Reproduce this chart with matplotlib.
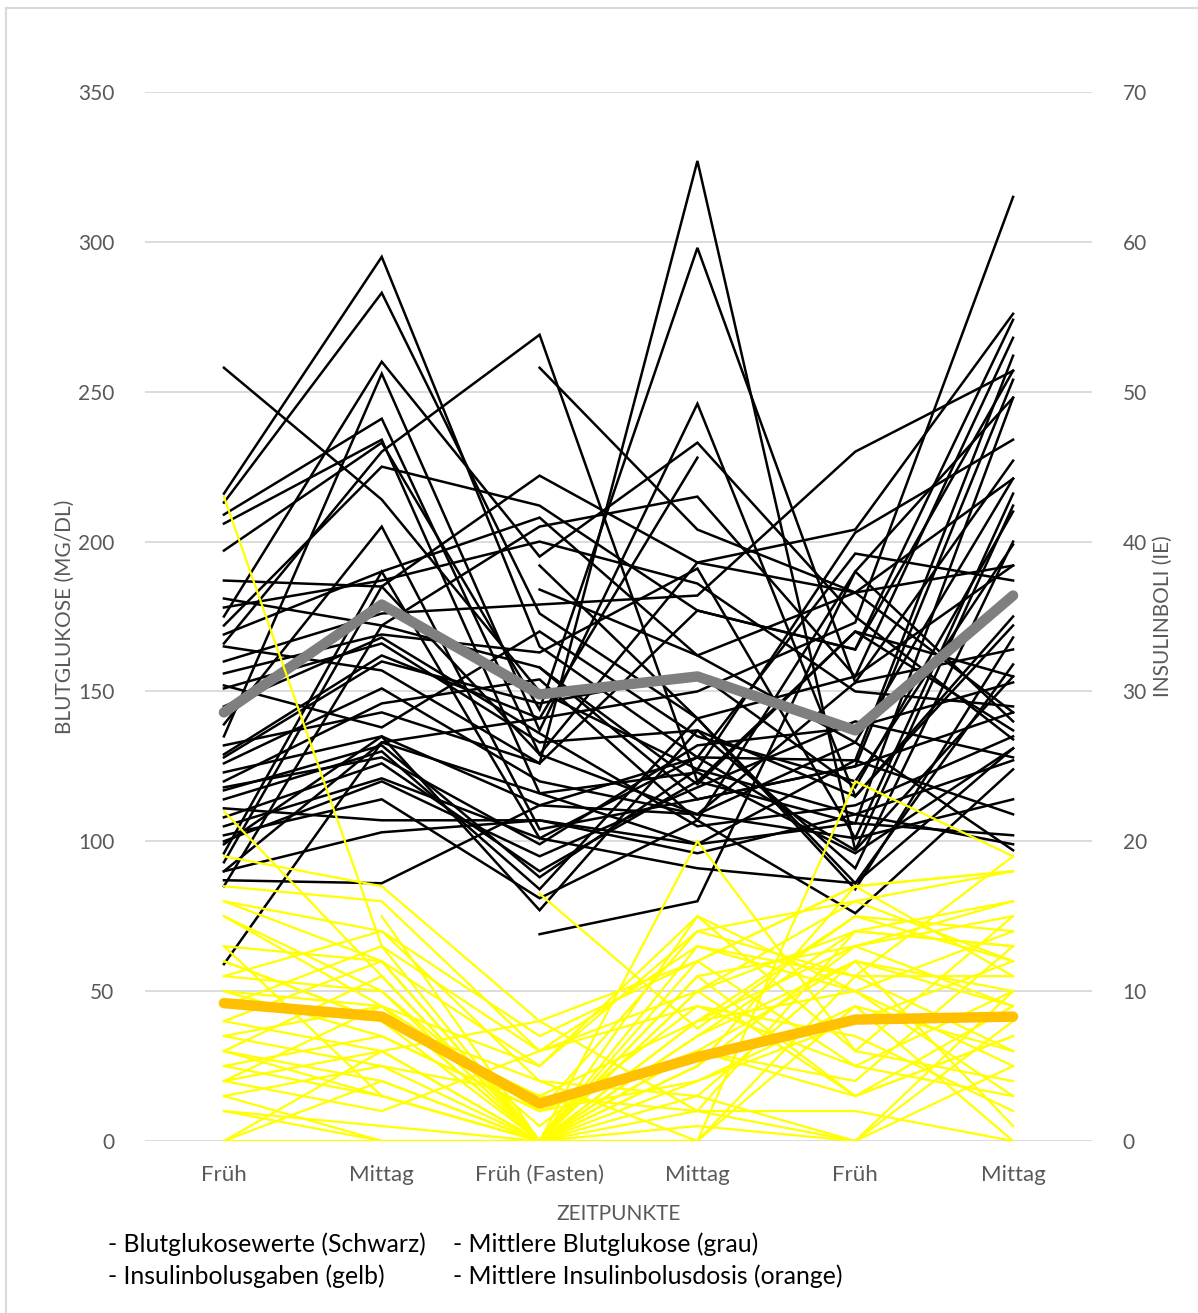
import numpy as np
import matplotlib
matplotlib.use("Agg")
import matplotlib.pyplot as plt
from matplotlib.lines import Line2D

plt.rcParams['font.family'] = ['Lato', 'DejaVu Sans']

nan = np.nan

# Time points (x categories)
categories = ["Früh", "Mittag", "Früh (Fasten)", "Mittag", "Früh", "Mittag"]

# Blood glucose per patient (mg/dl) at each time point
glucose = [
    [258, 214, 150, 124, 109, 99],
    [216, 295, 165, 128, 97, 155],
    [213, 283, 176, 141, 86, 131],
    [209, 241, 129, 193, 204, 276],
    [206, 234, 116, 99, 127, 262],
    [197, 233, 144, 298, 153, 227],
    [187, 185, 222, 193, 183, 143],
    [181, 172, 205, 215, 155, 268],
    [175, 260, 195, 233, 175, 134],
    [172, 225, 212, 177, 164, 274],
    [169, 190, 208, 162, 133, 221],
    [166, 230, 269, 120, 106, 248],
    [160, 176, 179, 182, 230, 257],
    [156, 169, 163, 191, 101, 216],
    [151, 166, 133, 137, 91, 200],
    [139, 205, 104, 114, 125, 254],
    [135, 256, 137, 246, 115, 172],
    [132, 143, 126, 327, 97, 212],
    [129, 162, 141, 150, 173, 315],
    [126, 151, 120, 109, 153, 164],
    [123, 135, 112, 128, 196, 187],
    [120, 146, 154, 107, 190, 140],
    [117, 132, 88, 124, 203, 234],
    [114, 130, 84, 141, 84, 168],
    [111, 107, 107, 96, 109, 127],
    [108, 126, 90, 120, 170, 137],
    [105, 121, 101, 91, 86, 159],
    [102, 114, 81, 107, 76, 124],
    [99, 135, 77, 137, 115, 175],
    [96, 190, 101, 128, 127, 109],
    [93, 185, 129, 109, 101, 114],
    [90, 103, 107, 99, 106, 102],
    [87, 86, 112, 109, 133, 97],
    [85, 172, 158, 114, 125, 143],
    [59, 133, 116, 123, 96, 131],
    [nan, nan, 258, 204, 183, 192],
    [nan, nan, 192, 141, 155, 192],
    [nan, nan, 184, 162, 183, 221],
    [nan, nan, 69, 80, 190, 248],
    [nan, nan, 158, 119, 170, 155],
    [90, 133, 141, 228, nan, nan],
    [165, 157, 126, 177, 164, 257],
    [145, 168, 136, 105, 112, 135],
    [100, 120, 95, 118, 140, 128],
    [178, 187, 200, 186, 150, 145],
    [152, 138, 170, 135, 120, 199],
    [128, 160, 146, 156, 118, 210],
    [118, 128, 99, 132, 138, 153],
]

# Insulin bolus doses per patient (IE)
insulin = [
    [43, 13, 0, 4, 9, 6],
    [22, 11, 0, 7, 12, 10],
    [19, 17, 8, 2, 14, 13],
    [17, 16, 6, 10, 3, 7],
    [16, 14, 4, 0, 11, 19],
    [15, 9, 0, 12, 17, 18],
    [13, 12, 5, 15, 6, 15],
    [12, 8, 0, 0, 24, 19],
    [11, 10, 0, 20, 6, 4],
    [10, 7, 2, 14, 16, 12],
    [8, 6, 0, 11, 13, 9],
    [7, 5, 3, 8, 15, 14],
    [6, 4, 0, 13, 10, 3],
    [5, 3, 0, 5, 17, 11],
    [4, 2, 6, 9, 7, 2],
    [3, 0, 0, 6, 4, 13],
    [2, 0, 0, 3, 12, 1],
    [0, 6, 8, 12, 5, 10],
    [0, 4, 0, 1, 0, 5],
    [0, 0, 0, 0, 9, 0],
    [nan, 15, 0, 7, 14, 16],
    [9, 8, 3, 2, 0, 8],
    [8, 12, 0, 10, 16, 18],
    [7, 9, 5, 14, 11, 6],
    [6, 11, 0, 8, 13, 15],
    [5, 7, 2, 4, 8, 12],
    [4, 6, 0, 15, 10, 14],
    [3, 5, 0, 11, 3, 7],
    [13, 3, 0, 6, 12, 9],
    [12, 8, 4, 3, 0, 10],
    [nan, nan, 16.5, 7.5, 15, 12],
    [11, 14, 7, 12, 17, 18],
    [10, 9, 0, 10, 14, 13],
    [9, 13, 6, 13, 11, 11],
    [15, 10, 1, 9, 5, 3],
    [16, 12, 0, 2, 2, 0],
    [6, 3, 0, 5, 13, 16],
    [2, 1, 0, 8, 10, 5],
    [4, 9, 2, 6, 3, 9],
]

# Mean blood glucose (mg/dl) and mean insulin bolus dose (IE)
mean_glucose = [143, 179, 149, 155, 137, 182]
mean_insulin = [9.2, 8.3, 2.5, 5.6, 8.1, 8.3]

W, H = 1198, 1313
fig = plt.figure(figsize=(W / 100, H / 100), dpi=100)
fig.patch.set_facecolor("white")

ax = fig.add_axes([145 / W, 1 - 1141 / H, (1092 - 145) / W, (1141 - 92) / H])
ax2 = ax.twinx()

x = np.arange(len(categories))
txt = "#595959"
grid = "#d9d9d9"

for row in glucose:
    ax.plot(x, row, color="black", lw=1.8, solid_joinstyle="miter", zorder=2)
ax.plot(x, mean_glucose, color="#7f7f7f", lw=7.5, solid_capstyle="round",
        solid_joinstyle="round", zorder=3)

for row in insulin:
    ax2.plot(x, row, color="#ffff00", lw=1.6, solid_joinstyle="miter", zorder=2)
ax2.plot(x, mean_insulin, color="#ffc000", lw=7.5, solid_capstyle="round",
         solid_joinstyle="round", zorder=3)

ax.set_xlim(-0.5, len(categories) - 0.5)
ax.set_ylim(0, 350)
ax2.set_ylim(0, 70)
ax.set_yticks(np.arange(0, 351, 50))
ax2.set_yticks(np.arange(0, 71, 10))
ax.set_xticks(x)
ax.set_xticklabels(categories)

ax.grid(axis="y", color=grid, lw=1.3, zorder=0)
ax.set_axisbelow(True)
for a in (ax, ax2):
    for s in a.spines.values():
        s.set_visible(False)
ax.tick_params(axis="y", length=0, pad=22, labelsize=15, labelcolor=txt)
ax.tick_params(axis="x", length=0, pad=17, labelsize=16, labelcolor=txt)
ax2.tick_params(axis="y", length=0, pad=22, labelsize=15, labelcolor=txt)

ax.set_ylabel("BLUTGLUKOSE (MG/DL)", fontsize=15, color=txt, labelpad=2)
ax2.set_ylabel("INSULINBOLI (IE)", fontsize=15, color=txt, labelpad=4)
ax.set_xlabel("ZEITPUNKTE", fontsize=15, color=txt, labelpad=14)

# Explanatory notes below the chart
notes = [
    (108, 1244, "- Blutglukosewerte (Schwarz)"),
    (453, 1244, "- Mittlere Blutglukose (grau)"),
    (108, 1276, "- Insulinbolusgaben (gelb)"),
    (453, 1276, "- Mittlere Insulinbolusdosis (orange)"),
]
for px, py, s in notes:
    fig.text(px / W, 1 - py / H, s, fontsize=17.8, color="black",
             ha="left", va="center")

# Chart frame
bx, by = 6 / W, 1 - 8 / H
fig.add_artist(Line2D([bx, 1], [by, by], color=grid, lw=1.5))
fig.add_artist(Line2D([bx, bx], [by, 0], color=grid, lw=1.5))

fig.savefig("out.png", dpi=100, facecolor="white")
